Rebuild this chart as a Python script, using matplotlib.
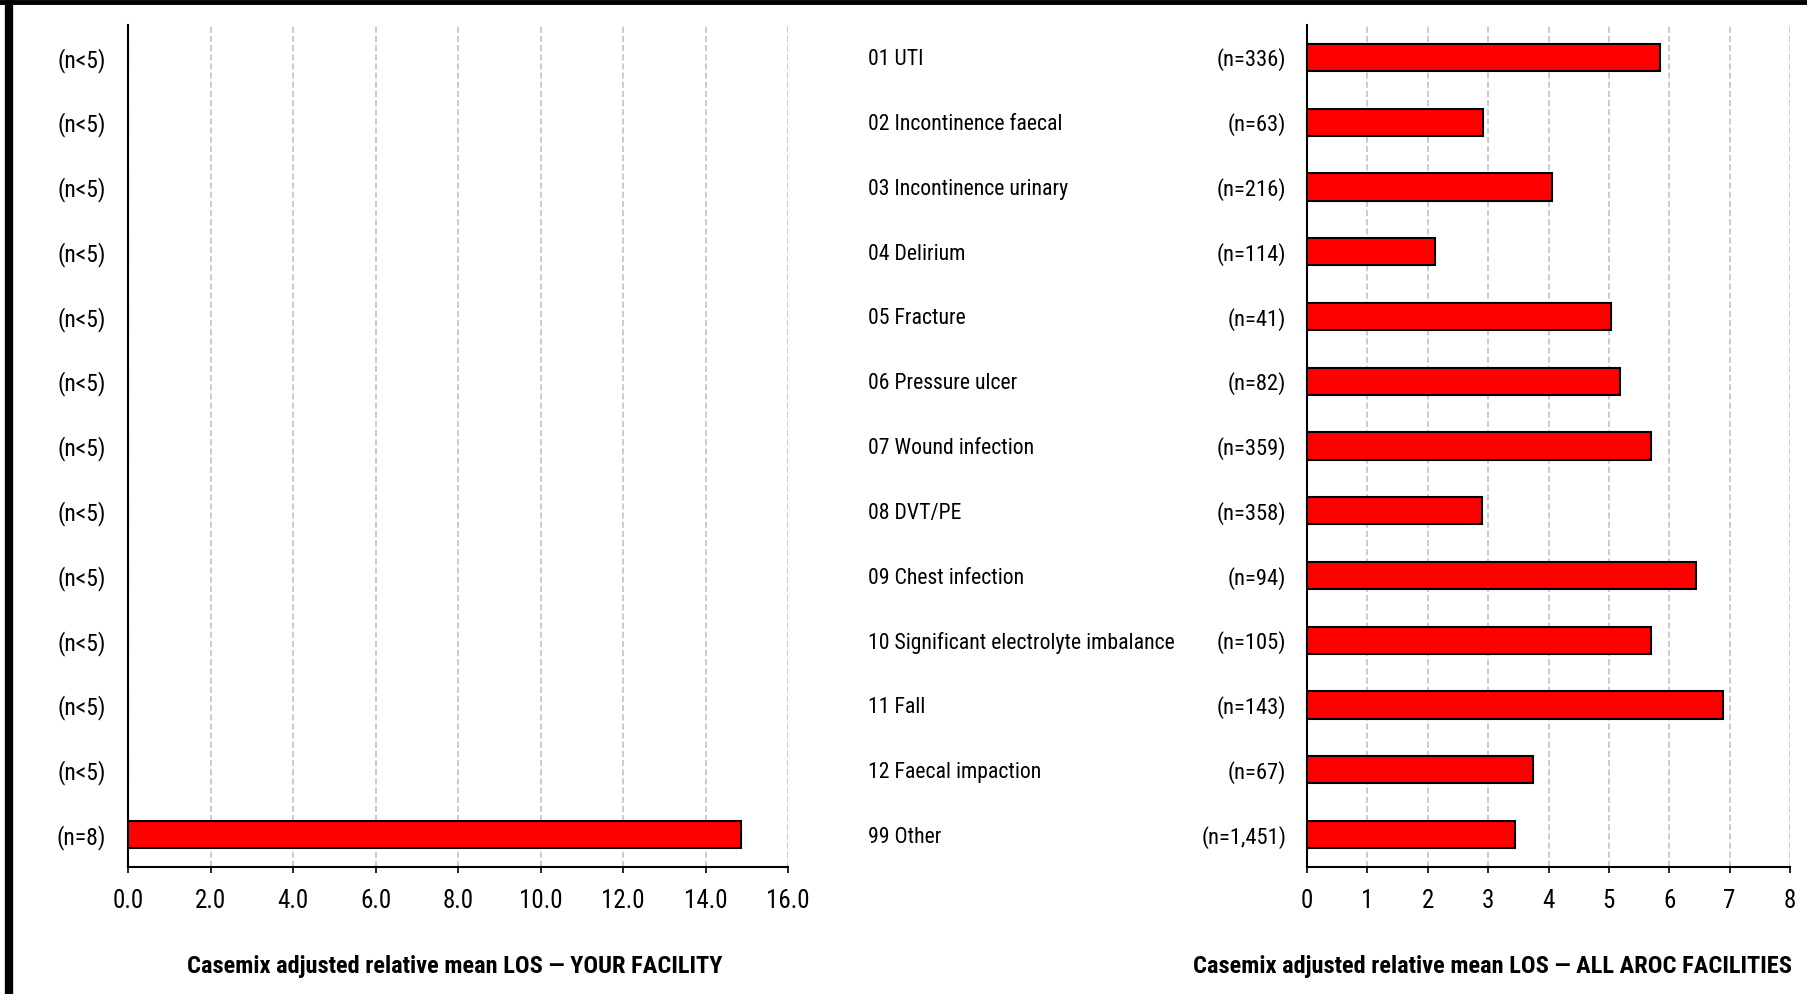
import matplotlib
matplotlib.use('Agg')
import matplotlib.pyplot as plt
from matplotlib import font_manager
from matplotlib.transforms import blended_transform_factory
from matplotlib.lines import Line2D

# pick a narrow sans font if we have one
installed = {f.name for f in font_manager.fontManager.ttflist}
font = 'DejaVu Sans'
for name in ['Liberation Sans Narrow', 'Arial Narrow', 'Roboto Condensed', 'Liberation Sans']:
    if name in installed:
        font = name
        break
plt.rcParams['font.family'] = [font, 'DejaVu Sans']

# data, top row first
categories = ['01 UTI', '02 Incontinence faecal', '03 Incontinence urinary', '04 Delirium',
              '05 Fracture', '06 Pressure ulcer', '07 Wound infection', '08 DVT/PE',
              '09 Chest infection', '10 Significant electrolyte imbalance', '11 Fall',
              '12 Faecal impaction', '99 Other']
facility_n = ['(n<5)'] * 12 + ['(n=8)']
facility_los = [0, 0, 0, 0, 0, 0, 0, 0, 0, 0, 0, 0, 14.86]
all_n = ['(n=336)', '(n=63)', '(n=216)', '(n=114)', '(n=41)', '(n=82)', '(n=359)',
         '(n=358)', '(n=94)', '(n=105)', '(n=143)', '(n=67)', '(n=1,451)']
all_los = [5.85, 2.92, 4.05, 2.12, 5.04, 5.19, 5.69, 2.90, 6.45, 5.69, 6.89, 3.75, 3.44]

left_ticks = [0, 2, 4, 6, 8, 10, 12, 14, 16]
right_ticks = [0, 1, 2, 3, 4, 5, 6, 7, 8]

W, H = 1807, 994
fig = plt.figure(figsize=(W / 100, H / 100), dpi=100)

y = list(range(len(categories)))


def style(ax, ticks, fmt):
    ax.set_ylim(len(categories) - 0.5, -0.5)
    ax.set_xlim(ticks[0], ticks[-1])
    ax.set_xticks(ticks)
    ax.set_xticklabels([fmt.format(t) for t in ticks], fontsize=18)
    for s in ['top', 'right']:
        ax.spines[s].set_visible(False)
    ax.spines['left'].set_linewidth(1.5)
    ax.spines['bottom'].set_linewidth(1.5)
    ax.tick_params(axis='x', length=4, width=1.2, pad=12)
    ax.tick_params(axis='y', length=0)
    for t in ticks[1:]:
        ax.axvline(t, color='#bdbdbd', lw=1.1, linestyle=(0, (4, 2)), zorder=0)


ax1 = fig.add_axes([128 / W, 1 - 867 / H, 660 / W, 842 / H])
ax1.barh(y, facility_los, height=0.42, color='#ff0000', edgecolor='black', linewidth=1.5, zorder=3)
style(ax1, left_ticks, '{:.1f}')
ax1.set_yticks(y)
ax1.set_yticklabels(facility_n, fontsize=17)
ax1.tick_params(axis='y', pad=16)

ax2 = fig.add_axes([1307 / W, 1 - 867 / H, 483 / W, 842 / H])
ax2.barh(y, all_los, height=0.42, color='#ff0000', edgecolor='black', linewidth=1.5, zorder=3)
style(ax2, right_ticks, '{:d}')
ax2.set_yticks(y)
ax2.set_yticklabels(all_n, fontsize=16.2)
ax2.tick_params(axis='y', pad=15)

tr = blended_transform_factory(fig.transFigure, ax2.transData)
for i, c in enumerate(categories):
    ax2.text(868 / W, i, c, transform=tr, ha='left', va='center_baseline', fontsize=15.7)

fig.text(455 / W, 1 - 966 / H, 'Casemix adjusted relative mean LOS \u2014 YOUR FACILITY',
         ha='center', va='center', fontsize=17.6, fontweight='bold')
fig.text(1492 / W, 1 - 966 / H, 'Casemix adjusted relative mean LOS \u2014 ALL AROC FACILITIES',
         ha='center', va='center', fontsize=17.6, fontweight='bold')

# black frame on the left and top edges
fig.add_artist(Line2D([9 / W, 9 / W], [0, 1], color='black', lw=6, transform=fig.transFigure))
fig.add_artist(Line2D([0, 1], [1 - 2 / H, 1 - 2 / H], color='black', lw=3.5, transform=fig.transFigure))

fig.savefig('out.png', dpi=100)
